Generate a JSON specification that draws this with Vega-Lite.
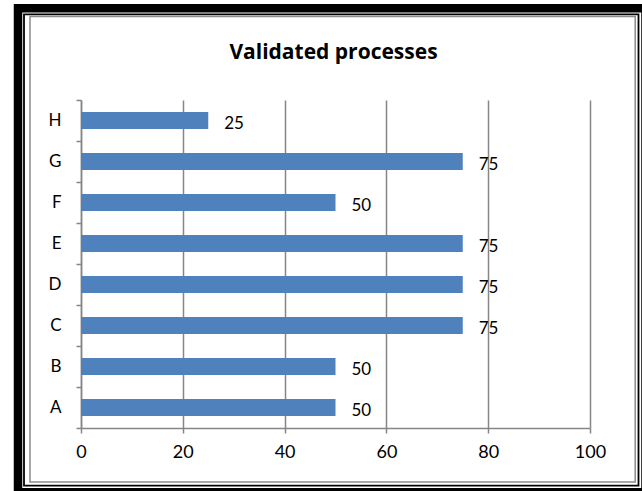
{
  "$schema": "https://vega.github.io/schema/vega-lite/v6.json",
  "width": 509,
  "height": 328,
  "autosize": "none",
  "padding": {"left": 81, "top": 100, "right": 52, "bottom": 63},
  "background": "white",
  "title": {"text": "Validated processes", "font": "Open Sans", "fontSize": 21, "fontWeight": "bold", "color": "#000000", "anchor": "middle", "frame": "group", "baseline": "alphabetic", "offset": -76, "dx": -2},
  "data": {"values": [
    {"process": "A", "value": 50},
    {"process": "B", "value": 50},
    {"process": "C", "value": 75},
    {"process": "D", "value": 75},
    {"process": "E", "value": 75},
    {"process": "F", "value": 50},
    {"process": "G", "value": 75},
    {"process": "H", "value": 25}
  ]},
  "layer": [
    {
      "data": {"values": [{"frame": "outer"}]},
      "mark": {"type": "rect", "fill": null, "stroke": "#000000", "strokeWidth": 8.5, "clip": false},
      "encoding": {"x": {"value": -63}, "x2": {"value": 564.5}, "y": {"value": -91.7}, "y2": {"value": 392.3}}
    },
    {
      "data": {"values": [{"frame": "inner"}]},
      "mark": {"type": "rect", "fill": null, "stroke": "#000000", "strokeWidth": 1.8, "clip": false},
      "encoding": {"x": {"value": -57}, "x2": {"value": 557.5}, "y": {"value": -85.7}, "y2": {"value": 385.7}}
    },
    {
      "data": {"values": [{"frame": "chart"}]},
      "mark": {"type": "rect", "fill": null, "stroke": "#8a8a8a", "strokeWidth": 1.5, "clip": false},
      "encoding": {"x": {"value": -51}, "x2": {"value": 554.2}, "y": {"value": -83.5}, "y2": {"value": 382}}
    },
    {
      "mark": {"type": "bar", "color": "#4F81BD", "height": {"band": 0.41}},
      "encoding": {
        "y": {"field": "process", "type": "nominal", "sort": "descending",
          "scale": {"paddingInner": 0, "paddingOuter": 0},
          "axis": {"title": null, "tickBand": "extent", "domainColor": "#868686", "domainWidth": 1.5, "tickColor": "#868686", "tickWidth": 1.5, "tickSize": 5, "labelFont": "Lato", "labelFontSize": 17, "labelPadding": 15, "labelColor": "#000000", "grid": false}},
        "x": {"field": "value", "type": "quantitative",
          "scale": {"domain": [0, 100], "nice": false},
          "axis": {"title": null, "values": [0, 20, 40, 60, 80, 100], "labelFlush": false, "grid": true, "gridColor": "#868686", "gridWidth": 1.5, "domainColor": "#868686", "domainWidth": 1.5, "tickColor": "#868686", "tickWidth": 1.5, "tickSize": 5, "labelFont": "Lato", "labelFontSize": 18, "labelPadding": 10, "labelColor": "#000000"}}
      }
    },
    {
      "mark": {"type": "text", "align": "left", "baseline": "middle", "dx": 16, "dy": 3, "font": "Lato", "fontSize": 17, "color": "#000000"},
      "encoding": {
        "y": {"field": "process", "type": "nominal", "sort": "descending"},
        "x": {"field": "value", "type": "quantitative"},
        "text": {"field": "value", "type": "quantitative"}
      }
    }
  ],
  "config": {"view": {"stroke": null}}
}
